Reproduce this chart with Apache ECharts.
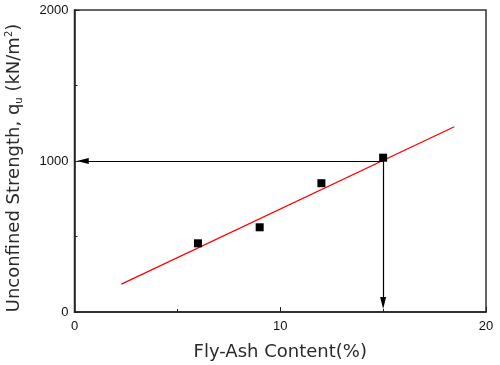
<!DOCTYPE html>
<html><head><meta charset="utf-8">
<script src="https://cdn.jsdelivr.net/npm/echarts@6/dist/echarts.min.js"></script>
<style>html,body{margin:0;padding:0;background:#fff}#c{width:500px;height:365px}</style>
</head><body><div id="c"></div>
<script>
const flyAsh = [6, 9, 12, 15];
const strength = [455, 561, 853, 1022];
const fitLine = [[2.28, 185], [18.46, 1227]];
const hArrow = [[15, 1000], [0.4, 1000]];
const vArrow = [[15, 1000], [15, 60]];
const xTicks = [0, 10, 20];
const yTicks = [0, 1000, 2000];

const chart = echarts.init(document.getElementById('c'));
const font = 'Liberation Sans, Arial, sans-serif';
const nameFont = 'DejaVu Sans, sans-serif';
chart.setOption({
  animation: false,
  grid: {left: 74.5, right: 14, top: 10, bottom: 53, containLabel: false, outerBoundsMode: 'none',
    show: true, borderColor: '#333', borderWidth: 1.5},
  xAxis: {
    type: 'value', min: 0, max: 20, interval: 10,
    name: 'Fly-Ash Content(%)', nameLocation: 'middle', nameGap: 31,
    nameTextStyle: {fontFamily: nameFont, fontSize: 18, color: '#2a2a2a'},
    axisLine: {show: true, lineStyle: {color: '#222', width: 1.5}},
    axisTick: {show: true, inside: true, length: 5, lineStyle: {color: '#222'}},
    minorTick: {show: true, splitNumber: 2, length: 3, lineStyle: {color: '#222'}},
    splitLine: {show: false},
    axisLabel: {fontFamily: font, fontSize: 13, color: '#111', margin: 8,
      formatter: v => xTicks.includes(v) ? String(v) : ''}
  },
  yAxis: {
    type: 'value', min: 0, max: 2000, interval: 1000,
    name: '{a|Unconfined Strength, q}{s|u}{a| (kN/m}{p|2}{a|)}', nameLocation: 'middle', nameGap: 50,
    nameTextStyle: {fontFamily: nameFont, fontSize: 18, color: '#2a2a2a', padding: [0, 14, 0, 0],
      rich: {
        a: {fontFamily: nameFont, fontSize: 18, color: '#2a2a2a', lineHeight: 20, verticalAlign: 'middle'},
        s: {fontFamily: nameFont, fontSize: 10, color: '#2a2a2a', lineHeight: 10, verticalAlign: 'bottom'},
        p: {fontFamily: nameFont, fontSize: 10, color: '#2a2a2a', lineHeight: 10, verticalAlign: 'top'}
      }},
    axisLine: {show: true, lineStyle: {color: '#222', width: 1.5}},
    axisTick: {show: true, inside: true, length: 5, lineStyle: {color: '#222'}},
    minorTick: {show: true, splitNumber: 2, length: 3, lineStyle: {color: '#222'}},
    splitLine: {show: false},
    axisLabel: {fontFamily: font, fontSize: 13, color: '#111', margin: 6,
      formatter: v => yTicks.includes(v) ? String(v) : ''}
  },
  series: [
    {type: 'line', data: fitLine, showSymbol: false, symbol: 'none',
     lineStyle: {color: '#ff0000', width: 1.3}, z: 3},
    {type: 'scatter', data: flyAsh.map((x, i) => [x, strength[i]]), symbol: 'rect', symbolSize: 8,
     itemStyle: {color: '#000', opacity: 1}, z: 4,
     markLine: {
       silent: true, symbol: ['none', 'triangle'], symbolSize: [6, 12],
       label: {show: false}, lineStyle: {color: '#000', width: 1.2, type: 'solid'},
       data: [
         [{coord: hArrow[0]}, {coord: hArrow[1]}],
         [{coord: vArrow[0]}, {coord: vArrow[1]}]
       ]
     }}
  ]
});
</script></body></html>
